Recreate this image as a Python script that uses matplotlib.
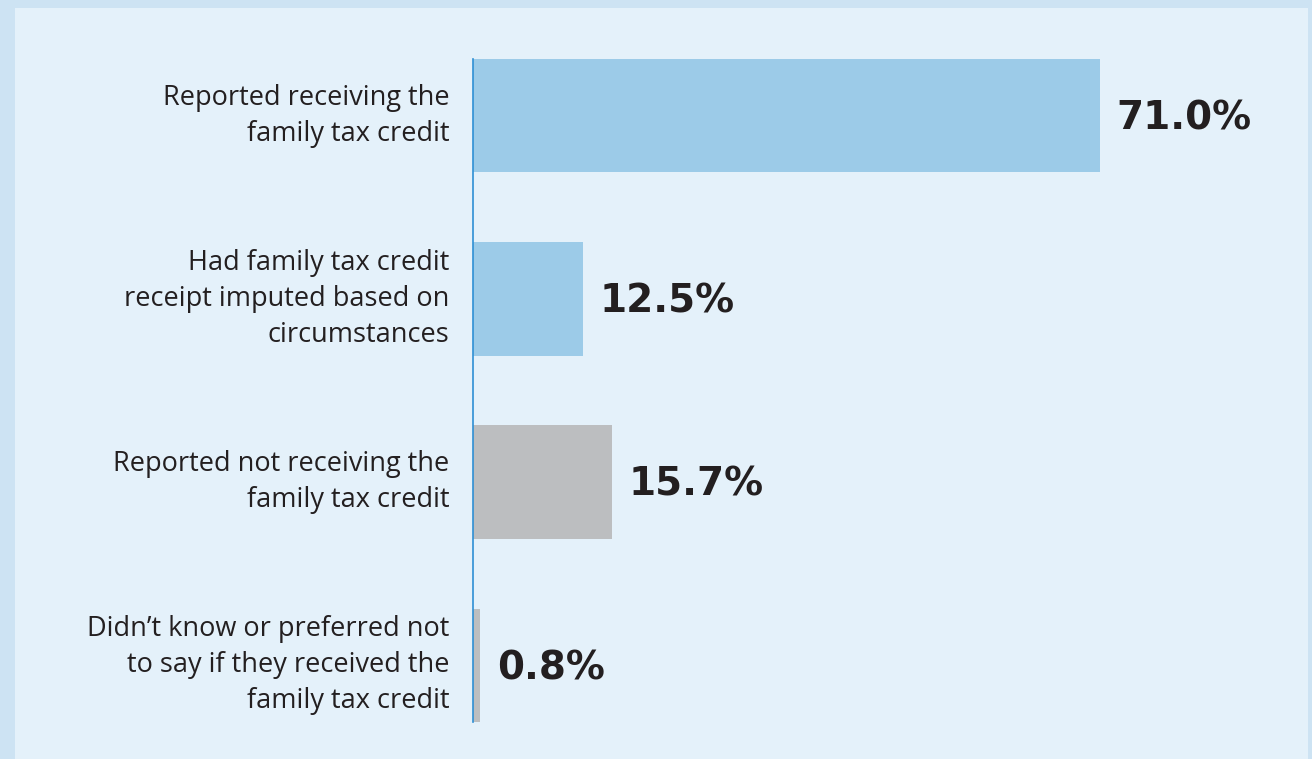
import matplotlib.pyplot as plt
from matplotlib.patches import Rectangle

categories = [
    "Reported receiving the\nfamily tax credit",
    "Had family tax credit\nreceipt imputed based on\ncircumstances",
    "Reported not receiving the\nfamily tax credit",
    "Didn\u2019t know or preferred not\nto say if they received the\nfamily tax credit",
]
values = [71.0, 12.5, 15.7, 0.8]
value_labels = ["71.0%", "12.5%", "15.7%", "0.8%"]
bar_colors = ["#9ccbe8", "#9ccbe8", "#bcbec0", "#bcbec0"]

W, H = 1312, 759
fig = plt.figure(figsize=(W / 100, H / 100), dpi=100)
fig.patch.set_facecolor("#cde3f3")
fig.add_artist(Rectangle((15 / W, 0), (1308 - 15) / W, (H - 8) / H,
                         transform=fig.transFigure, facecolor="#e4f1fa",
                         edgecolor="none", zorder=0))

# axes spans from the baseline to where 71% ends horizontally
x0, x1 = 473, 1100
y_top, y_bot = 58 - 34, 723 + 34
ax = fig.add_axes([x0 / W, 1 - y_bot / H, (x1 - x0) / W, (y_bot - y_top) / H])
ax.set_facecolor("none")

pos = list(range(len(values)))
ax.barh(pos, values, height=0.62, color=bar_colors, zorder=2)
ax.set_xlim(0, 71.0)
ax.set_ylim(3.5, -0.5)
for s in ax.spines.values():
    s.set_visible(False)
ax.set_xticks([])
ax.set_yticks([])

# baseline
ax.plot([0, 0], [-0.31, 3.31], color="#2e8fd4", lw=1.2, zorder=3, clip_on=False)

for p, v, lab, cat in zip(pos, values, value_labels, categories):
    ax.annotate(lab, xy=(v, p), xytext=(12, -2), textcoords="offset points",
                ha="left", va="center", fontsize=28, fontweight="bold",
                color="#231f20", family="DejaVu Sans")
    ax.annotate(cat, xy=(0, p), xytext=(-17, 0), textcoords="offset points",
                ha="right", va="center", fontsize=19.5, color="#231f20",
                family="Open Sans", linespacing=1.38)

fig.savefig("out.png", dpi=100, facecolor=fig.get_facecolor())
